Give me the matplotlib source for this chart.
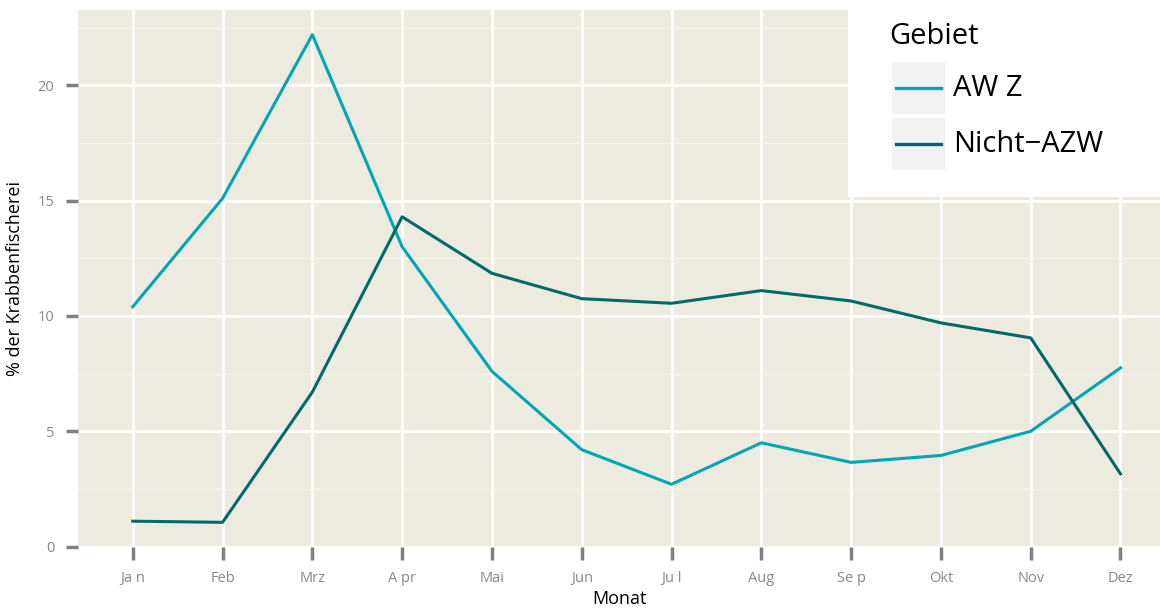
import matplotlib
matplotlib.use("Agg")
import matplotlib.pyplot as plt
from matplotlib.patches import Rectangle
from matplotlib.lines import Line2D

plt.rcParams['font.family'] = ['Open Sans', 'DejaVu Sans']

monate = ["Ja n", "Feb", "Mrz", "A pr", "Mai", "Jun", "Ju l", "Aug", "Se p", "Okt", "Nov", "Dez"]
awz = [10.4, 15.1, 22.2, 13.0, 7.6, 4.2, 2.7, 4.5, 3.65, 3.95, 5.0, 7.75]
nicht_awz = [1.1, 1.05, 6.7, 14.3, 11.85, 10.75, 10.55, 11.1, 10.65, 9.7, 9.05, 3.15]
gebiete = ["AW Z", "Nicht\u2212AZW"]
farben = ["#00A6B4", "#006A6A"]

W, H = 1160, 611
fig = plt.figure(figsize=(W / 100, H / 100), dpi=100)
ax = fig.add_axes([78 / W, 1 - 547 / H, 1 - 78 / W, 537 / H])
ax.set_facecolor("#EDEBE0")

x = list(range(1, 13))
ax.plot(x, awz, color=farben[0], lw=2.2, zorder=3)
ax.plot(x, nicht_awz, color=farben[1], lw=2.2, zorder=3)

ax.set_xlim(0.39, 12.44)
ax.set_ylim(-0.02, 23.27)
ax.set_xticks(x)
ax.set_xticklabels(monate)
ax.set_yticks([0, 5, 10, 15, 20])
ax.set_yticks([2.5, 7.5, 12.5, 17.5, 22.5], minor=True)
ax.grid(which="major", color="white", lw=2.0, zorder=0)
ax.grid(which="minor", axis="y", color="#F6F5EF", lw=0.9, zorder=0)
ax.set_axisbelow(True)
for s in ax.spines.values():
    s.set_visible(False)
ax.tick_params(which="major", length=9, width=2.5, color="#7F7F7F",
               labelcolor="#888888", labelsize=10.5, pad=8)
ax.tick_params(which="minor", length=0)
ax.set_xlabel("Monat", fontsize=13, labelpad=3)
ax.set_ylabel("% der Krabbenfischerei", fontsize=13, labelpad=10)

# legend inside top right, white box
fig.patches.append(Rectangle((848 / W, 1 - 197 / H), 1 - 848 / W, 197 / H,
                             transform=fig.transFigure, facecolor="white",
                             edgecolor="none", zorder=5))
fig.text(889 / W, 1 - 36 / H, "Gebiet", fontsize=21, va="center", ha="left", zorder=6)
for i, (lab, col) in enumerate(zip(gebiete, farben)):
    top = 62 + i * 56
    fig.patches.append(Rectangle((892 / W, 1 - (top + 52) / H), 53 / W, 52 / H,
                                 transform=fig.transFigure, facecolor="#F2F2F2",
                                 edgecolor="none", zorder=6))
    yc = 1 - (top + 26) / H
    fig.lines.append(Line2D([896 / W, 941 / W], [yc, yc], transform=fig.transFigure,
                            color=col, lw=2.4, zorder=7))
    fig.text(953 / W, yc, lab, fontsize=21, va="center", ha="left", zorder=7)

fig.savefig("out.png", dpi=100)
